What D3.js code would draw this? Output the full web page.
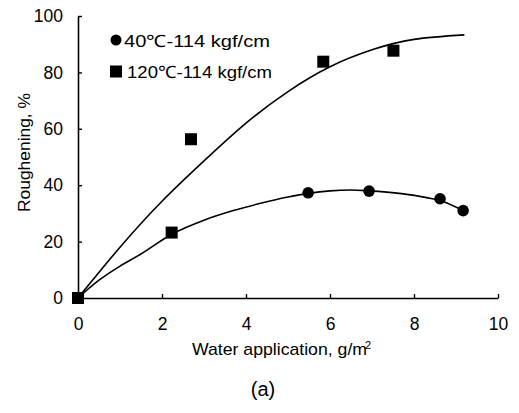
<!DOCTYPE html>
<html>
<head>
<meta charset="utf-8">
<script src="https://cdn.jsdelivr.net/npm/d3@7/dist/d3.min.js"></script>
<style>
  body { margin: 0; background: #fff; }
  svg { display: block; }
  text { font-family: "Liberation Sans", Arial, sans-serif; fill: #000; }
</style>
</head>
<body>
<svg id="chart" width="519" height="413"></svg>
<script>
// ---- data ----
const xTicks = [0, 2, 4, 6, 8, 10];
const yTicks = [0, 20, 40, 60, 80, 100];

// markers
const circleX = [5.48, 6.93, 8.62, 9.17];
const circleY = [37.3, 37.9, 35.2, 31.0];
const squareX = [0, 2.23, 2.69, 5.84, 7.51];
const squareY = [0, 23.2, 56.3, 83.8, 87.7];

// fitted curves
const upperX = [0, 1, 2, 3, 4, 5, 6, 7, 8, 9.2];
const upperY = [0, 18, 34.3, 48.6, 62, 73.2, 82, 88, 91.7, 93.3];
const lowerX = [0, 0.5, 1, 1.5, 2.23, 3, 3.7, 4.3, 5, 5.48, 6, 6.5, 6.93, 7.7, 8.3, 8.62, 9.17];
const lowerY = [0, 6.3, 11.3, 15.6, 22.6, 27.6, 31, 33.4, 35.8, 37.1, 38, 38.3, 38, 37, 35.6, 34.6, 31.0];

const legendLabels = ["40\u2103-114 kgf/cm", "120\u2103-114 kgf/cm"];

// ---- drawing ----
const svg = d3.select("#chart");
const x = d3.scaleLinear().domain([0, 10]).range([78, 498]);
const y = d3.scaleLinear().domain([0, 100]).range([298, 16]);

// axes
const xAxis = d3.axisBottom(x).tickValues(xTicks).tickSizeInner(-4).tickSizeOuter(0).tickPadding(20);
const yAxis = d3.axisLeft(y).tickValues(yTicks).tickSizeInner(-4).tickSizeOuter(0).tickPadding(15);

const gx = svg.append("g").attr("transform", `translate(0,${y(0)})`).call(xAxis);
const gy = svg.append("g").attr("transform", `translate(${x(0)},0)`).call(yAxis);
[gx, gy].forEach(g => {
  g.select(".domain").attr("stroke", "#000").attr("stroke-width", 1.6);
  g.selectAll(".tick line").attr("stroke", "#000").attr("stroke-width", 1.4);
  g.selectAll(".tick text").attr("font-size", 17.5).attr("font-family", "Liberation Sans, Arial, sans-serif").attr("fill", "#111");
});

// curves
const upperLine = d3.line().x(d => x(d[0])).y(d => y(d[1])).curve(d3.curveNatural);
const lowerLine = d3.line().x(d => x(d[0])).y(d => y(d[1])).curve(d3.curveMonotoneX);
svg.append("path")
  .attr("d", upperLine(upperX.map((v, i) => [v, upperY[i]])))
  .attr("fill", "none").attr("stroke", "#000").attr("stroke-width", 1.6);
svg.append("path")
  .attr("d", lowerLine(lowerX.map((v, i) => [v, lowerY[i]])))
  .attr("fill", "none").attr("stroke", "#000").attr("stroke-width", 1.6);

// markers
svg.append("g").selectAll("circle")
  .data(circleX.map((v, i) => [v, circleY[i]]))
  .join("circle")
  .attr("cx", d => x(d[0])).attr("cy", d => y(d[1])).attr("r", 5.8).attr("fill", "#000");
const sq = 12;
svg.append("g").selectAll("rect")
  .data(squareX.map((v, i) => [v, squareY[i]]))
  .join("rect")
  .attr("x", d => x(d[0]) - sq / 2).attr("y", d => y(d[1]) - sq / 2)
  .attr("width", sq).attr("height", sq).attr("fill", "#000");

// legend
const lg = svg.append("g");
lg.append("circle").attr("cx", 116).attr("cy", 40).attr("r", 5.5).attr("fill", "#000");
lg.append("text").attr("x", 124).attr("y", 46.5).attr("font-size", 17)
  .attr("textLength", 146).attr("lengthAdjust", "spacingAndGlyphs").text(legendLabels[0]);
lg.append("rect").attr("x", 110).attr("y", 65.5).attr("width", 12).attr("height", 12).attr("fill", "#000");
lg.append("text").attr("x", 127).attr("y", 78).attr("font-size", 17)
  .attr("textLength", 145).attr("lengthAdjust", "spacingAndGlyphs").text(legendLabels[1]);

// axis titles
const xt = svg.append("text").attr("x", 192).attr("y", 355).attr("font-size", 17);
xt.append("tspan").attr("textLength", 175).attr("lengthAdjust", "spacingAndGlyphs").text("Water application, g/m");
xt.append("tspan").attr("font-size", 11).attr("dx", -2).attr("dy", -6).text("2");

svg.append("text")
  .attr("transform", "translate(30,152.5) rotate(-90)")
  .attr("text-anchor", "middle").attr("font-size", 17)
  .attr("textLength", 119).attr("lengthAdjust", "spacingAndGlyphs")
  .text("Roughening, %");

svg.append("text").attr("x", 263).attr("y", 396).attr("text-anchor", "middle")
  .attr("font-family", "Liberation Serif, 'Times New Roman', serif").attr("font-size", 20)
  .text("(a)");
</script>
</body>
</html>
